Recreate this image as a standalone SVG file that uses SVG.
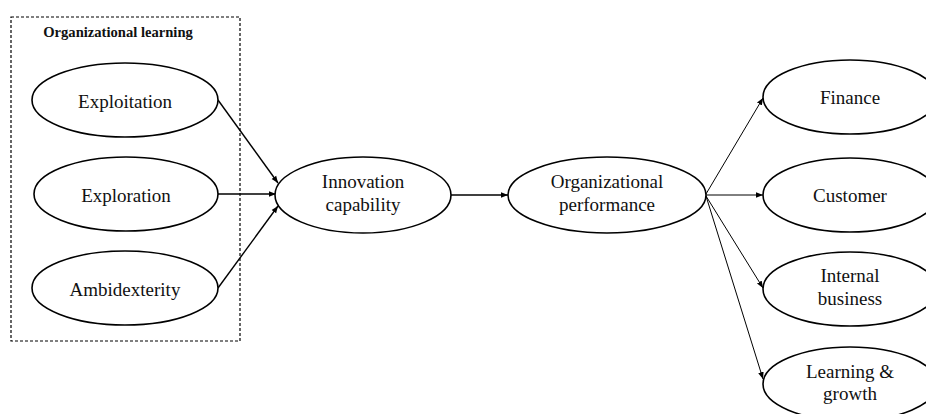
<svg xmlns="http://www.w3.org/2000/svg" width="926" height="414" viewBox="0 0 926 414">
<defs>
<marker id="ah" viewBox="0 0 10 10" refX="10" refY="5" markerWidth="7" markerHeight="7" markerUnits="userSpaceOnUse" orient="auto">
<path d="M0,1 L10,5 L0,9 Z" fill="#000"/>
</marker>
</defs>
<style>
.n{fill:#fff;stroke:#000;stroke-width:1.6}
.t{font-family:"Liberation Serif","Times New Roman",serif;font-size:19px;fill:#111;text-anchor:middle}
.c{stroke:#000;stroke-width:1.4;fill:none;marker-end:url(#ah)}
.c2{stroke:#000;stroke-width:1;fill:none;marker-end:url(#ah)}
</style>
<rect width="926" height="414" fill="#fff"/>
<g id="group-learning">
<rect x="11" y="17" width="229" height="324" fill="none" stroke="#000" stroke-width="1.2" stroke-dasharray="3,2"/>
<text x="118" y="37" style="font-family:'Liberation Serif','Times New Roman',serif;font-size:14.6px;font-weight:bold;fill:#111" text-anchor="middle">Organizational learning</text>
</g>
<g id="connectors">
<line class="c" x1="218" y1="100" x2="278" y2="183"/>
<line class="c" x1="218" y1="194" x2="276" y2="194"/>
<line class="c" x1="218" y1="288" x2="278" y2="206"/>
<line class="c" x1="451" y1="195" x2="508" y2="195"/>
<line class="c2" x1="706" y1="194" x2="763" y2="98"/>
<line class="c2" x1="706" y1="195" x2="763" y2="195"/>
<line class="c2" x1="706" y1="196" x2="763" y2="288"/>
<line class="c2" x1="706" y1="196" x2="763" y2="379"/>
</g>
<g id="exploitation">
<ellipse class="n" cx="125" cy="100" rx="93" ry="37"/>
<text class="t" x="125" y="108">Exploitation</text>
</g>
<g id="exploration">
<ellipse class="n" cx="126" cy="194" rx="92" ry="37"/>
<text class="t" x="126" y="202">Exploration</text>
</g>
<g id="ambidexterity">
<ellipse class="n" cx="125" cy="288" rx="93" ry="37"/>
<text class="t" x="125" y="296">Ambidexterity</text>
</g>
<g id="innovation">
<ellipse class="n" cx="363" cy="195" rx="88" ry="38"/>
<text class="t" x="363" y="188">Innovation</text>
<text class="t" x="363" y="211">capability</text>
</g>
<g id="performance">
<ellipse class="n" cx="607" cy="195" rx="99" ry="38"/>
<text class="t" x="607" y="188">Organizational</text>
<text class="t" x="607" y="211">performance</text>
</g>
<g id="finance">
<ellipse class="n" cx="850" cy="97" rx="87" ry="37"/>
<text class="t" x="850" y="104">Finance</text>
</g>
<g id="customer">
<ellipse class="n" cx="850" cy="195" rx="87" ry="37"/>
<text class="t" x="850" y="202">Customer</text>
</g>
<g id="internal">
<ellipse class="n" cx="850" cy="289" rx="87" ry="37"/>
<text class="t" x="850" y="282">Internal</text>
<text class="t" x="850" y="305">business</text>
</g>
<g id="learning">
<ellipse class="n" cx="850" cy="384" rx="87" ry="37"/>
<text class="t" x="850" y="378">Learning &amp;</text>
<text class="t" x="850" y="400">growth</text>
</g>
</svg>
